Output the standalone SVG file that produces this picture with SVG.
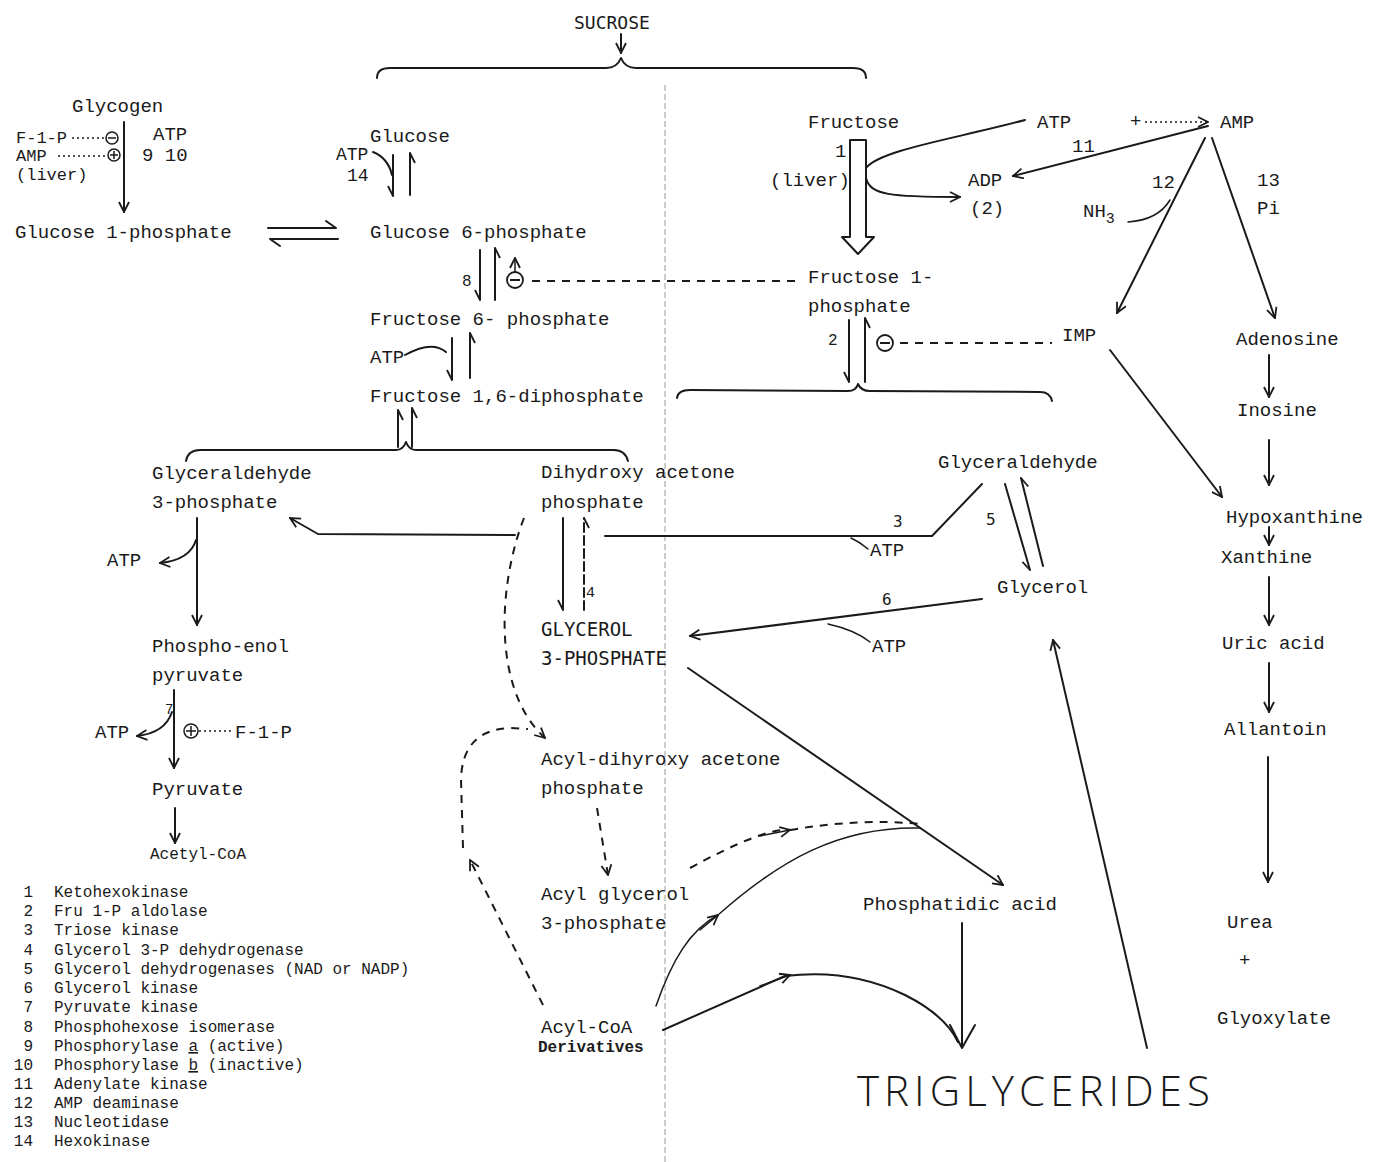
<svg xmlns="http://www.w3.org/2000/svg" width="1376" height="1162" viewBox="0 0 1376 1162">
<defs>
<style>
.t{font-family:"Liberation Mono","DejaVu Sans Mono",monospace;font-size:19px;fill:#1a1a1a}
.s{font-family:"Liberation Mono","DejaVu Sans Mono",monospace;font-size:16px;fill:#1a1a1a}
.c{font-family:"DejaVu Sans Mono","Liberation Mono",monospace;font-size:18px;fill:#1a1a1a}
.l{fill:none;stroke:#1a1a1a;stroke-width:2;stroke-linecap:round;stroke-linejoin:round}
.th{fill:none;stroke:#1a1a1a;stroke-width:1.5;stroke-linecap:round}
.d{fill:none;stroke:#1a1a1a;stroke-width:2;stroke-dasharray:8 7}
.dt{fill:none;stroke:#1a1a1a;stroke-width:1.5;stroke-dasharray:2 3}
.a{marker-end:url(#ah)}
.h{marker-end:url(#hb)}
</style>
<marker id="ah" viewBox="0 0 12 12" refX="11" refY="6" markerWidth="12" markerHeight="12" markerUnits="userSpaceOnUse" orient="auto">
<path d="M1,1 L11,6 L1,11" fill="none" stroke="#1a1a1a" stroke-width="1.8"/>
</marker>
<marker id="hb" viewBox="0 0 12 12" refX="11" refY="6" markerWidth="12" markerHeight="12" markerUnits="userSpaceOnUse" orient="auto">
<path d="M1,11 L11,6" fill="none" stroke="#1a1a1a" stroke-width="1.8"/>
</marker>
</defs>
<rect width="1376" height="1162" fill="#ffffff"/>
<line x1="665" y1="85" x2="665" y2="1162" stroke="#9a9a9a" stroke-width="1" stroke-dasharray="6 3"/>

<g id="connectors">
<!-- sucrose -->
<path class="a l" d="M621,34 L621,53"/>
<path class="l" d="M377,78 Q377,68 390,68 L606,68 Q617,68 621,58 Q625,68 636,68 L853,68 Q866,68 866,78"/>
<!-- glycogen -->
<path class="a l" d="M124,122 L124,212"/>
<path class="dt" d="M72,138 L104,138 M58,156 L106,156"/>
<!-- G1P <-> G6P -->
<path class="l" d="M268,228 L336,228 L326,221"/>
<path class="l" d="M338,239 L270,239 L280,246"/>
<!-- glucose <-> G6P -->
<path class="h l" d="M393,155 L393,196"/>
<path class="l" d="M373,152 Q388,158 392,175"/>
<path class="h l" d="M410,195 L410,153"/>
<!-- G6P <-> F6P -->
<path class="h l" d="M480,250 L480,300"/>
<path class="h l" d="M495,300 L495,248"/>
<path class="a th" d="M515,272 L515,258"/>
<path class="d" d="M532,281 L800,281"/>
<!-- F6P <-> F16DP -->
<path class="h l" d="M452,338 L452,380"/>
<path class="l" d="M405,355 Q432,340 446,352"/>
<path class="h l" d="M470,378 L470,333"/>
<!-- F16DP -> triose -->
<path class="h l" d="M398,447 L398,410"/>
<path class="h l" d="M412,447 L412,408"/>
<path class="l" d="M186,461 Q188,450 200,450 L396,450 Q403,450 406,442 Q409,450 416,450 L614,450 Q625,450 628,461"/>
<!-- GAP down -->
<path class="a l" d="M197,518 L197,625"/>
<path class="a l" d="M196,540 Q190,560 160,563"/>
<!-- PEP -> pyruvate -->
<path class="a l" d="M174,690 L174,768"/>
<path class="a l" d="M172,712 Q165,733 137,736"/>
<path class="dt" d="M199,731 L232,731"/>
<path class="a l" d="M175,808 L175,843"/>
<!-- DHAP -> GAP -->
<path class="a l" d="M515,535 L318,534 L290,518"/>
<!-- glyceraldehyde -> triose kinase line -->
<path class="l" d="M982,484 L932,536 L605,536"/>
<path class="th" d="M851,538 Q860,542 868,549"/>
<!-- DHAP <-> G3P -->
<path class="h l" d="M563,518 L563,610"/>
<path class="h l" d="M584,610 L584,518" stroke-dasharray="9 4"/>
<!-- DHAP dashed to acyl-DHAP -->
<path class="a d" d="M524,518 C498,585 492,690 545,738"/>
<!-- glyceraldehyde <-> glycerol -->
<path class="h l" d="M1005,484 L1030,570"/>
<path class="h l" d="M1043,566 L1021,478"/>
<!-- glycerol -> G3P -->
<path class="a l" d="M982,599 L690,636"/>
<path class="th" d="M828,624 Q855,630 870,642"/>
<!-- G3P -> phosphatidic acid -->
<path class="a l" d="M688,668 L1003,885"/>
<!-- fructose -> F1P hollow arrow -->
<path class="l" d="M850,140 L866,140 M850,140 L850,237 L842,237 L858,254 L874,237 L866,237 L866,140"/>
<path class="l" d="M1025,120 C950,140 880,150 866,168"/>
<path class="a l" d="M866,178 C870,195 890,197 960,197"/>
<!-- AMP -> ADP, ATP + -> AMP -->
<path class="a l" d="M1208,126 L1013,176"/>
<path class="a dt" d="M1145,122 L1208,122"/>
<!-- AMP -> IMP, AMP -> adenosine -->
<path class="a l" d="M1205,138 L1117,313"/>
<path class="th" d="M1128,222 Q1158,220 1170,200"/>
<path class="a l" d="M1212,138 L1275,318"/>
<!-- F1P aldolase -->
<path class="h l" d="M849,320 L849,382"/>
<path class="h l" d="M865,382 L865,318"/>
<path class="d" d="M900,343 L1052,343"/>
<path class="l" d="M677,398 Q678,390 690,390 L848,391 Q856,391 858,384 Q861,391 870,391 L1040,392 Q1050,392 1052,401"/>
<!-- IMP -> hypoxanthine -->
<path class="a l" d="M1110,350 L1222,497"/>
<!-- purine column -->
<path class="a l" d="M1269,355 L1269,397"/>
<path class="a l" d="M1269,440 L1269,485"/>
<path class="a l" d="M1269,527 L1269,545"/>
<path class="a l" d="M1269,577 L1269,625"/>
<path class="a l" d="M1269,663 L1269,712"/>
<path class="a l" d="M1268,757 L1268,882"/>
<!-- triglycerides -> glycerol -->
<path class="a l" d="M1147,1048 L1053,640"/>
<!-- acyl pathways -->
<path class="a d" d="M597,808 L608,875"/>
<path class="d" d="M690,868 Q760,830 785,830"/>
<path class="a th" d="M760,836 L790,830"/>
<path class="d" d="M790,830 Q860,818 920,824"/>
<path class="th" d="M656,1006 C672,960 690,930 718,915 C780,860 840,826 920,828"/>
<path class="a th" d="M700,930 L718,915"/>
<path class="l" d="M663,1030 L785,976 Q850,968 905,995 Q945,1015 958,1042"/>
<path class="a th" d="M760,986 L790,975"/>
<path class="l" d="M962,923 L962,1048 M950,1025 L962,1048 L975,1025"/>
<path class="a d" d="M543,1005 L470,860"/>
<path class="d" d="M463,848 L461,780 Q462,730 510,728 L528,729"/>
</g>

<g id="sucrose"><text class="c" x="574" y="29">SUCROSE</text></g>
<g id="glycogen">
<text class="t" x="72" y="112">Glycogen</text>
<text class="s" x="16" y="143" style="font-size:17px">F-1-P</text>
<circle cx="112" cy="138" r="6" fill="none" stroke="#1a1a1a" stroke-width="1.5"/>
<path d="M108,138 L116,138" stroke="#1a1a1a" stroke-width="1.5"/>
<text class="s" x="16" y="161" style="font-size:17px">AMP</text>
<circle cx="114" cy="155" r="6" fill="none" stroke="#1a1a1a" stroke-width="1.5"/>
<path d="M110,155 L118,155 M114,151 L114,159" stroke="#1a1a1a" stroke-width="1.5"/>
<text class="s" x="16" y="180" style="font-size:17px">(liver)</text>
<text class="t" x="153" y="140">ATP</text>
<text class="t" x="142" y="161">9 10</text>
</g>
<g id="g1p"><text class="t" x="15" y="238">Glucose 1-phosphate</text></g>
<g id="glucose">
<text class="t" x="370" y="142">Glucose</text>
<text class="t" x="336" y="160" style="font-size:18px">ATP</text>
<text class="t" x="347" y="181" style="font-size:18px">14</text>
</g>
<g id="g6p"><text class="t" x="370" y="238">Glucose 6-phosphate</text>
<text class="t" x="462" y="286" style="font-size:16px">8</text>
<circle cx="515" cy="280" r="8" fill="none" stroke="#1a1a1a" stroke-width="1.8"/>
<path d="M510,280 L520,280" stroke="#1a1a1a" stroke-width="2"/>
</g>
<g id="f6p"><text class="t" x="370" y="325">Fructose 6- phosphate</text>
<text class="t" x="370" y="363">ATP</text></g>
<g id="f16dp"><text class="t" x="370" y="402">Fructose 1,6-diphosphate</text></g>
<g id="gap3p">
<text class="t" x="152" y="479">Glyceraldehyde</text>
<text class="t" x="152" y="508">3-phosphate</text>
<text class="t" x="107" y="566">ATP</text>
</g>
<g id="dhap">
<text class="t" x="541" y="478">Dihydroxy acetone</text>
<text class="t" x="541" y="508">phosphate</text>
<text class="t" x="586" y="597" style="font-size:15px">4</text>
</g>
<g id="g3p">
<text class="c" x="541" y="636" style="font-size:19px">GLYCEROL</text>
<text class="c" x="541" y="665" style="font-size:19px">3-PHOSPHATE</text>
</g>
<g id="pep">
<text class="t" x="152" y="652">Phospho-enol</text>
<text class="t" x="152" y="681">pyruvate</text>
<text class="t" x="165" y="714" style="font-size:14px">7</text>
<text class="t" x="95" y="738">ATP</text>
<circle cx="191" cy="731" r="7" fill="none" stroke="#1a1a1a" stroke-width="1.5"/>
<path d="M186,731 L196,731 M191,726 L191,736" stroke="#1a1a1a" stroke-width="1.5"/>
<text class="t" x="235" y="738">F-1-P</text>
</g>
<g id="pyruvate"><text class="t" x="152" y="795">Pyruvate</text></g>
<g id="acetylcoa"><text class="s" x="150" y="859">Acetyl-CoA</text></g>
<g id="legend" class="s">
<text x="33" y="897" text-anchor="end">1</text><text x="54" y="897">Ketohexokinase</text>
<text x="33" y="916" text-anchor="end">2</text><text x="54" y="916">Fru 1-P aldolase</text>
<text x="33" y="935" text-anchor="end">3</text><text x="54" y="935">Triose kinase</text>
<text x="33" y="955" text-anchor="end">4</text><text x="54" y="955">Glycerol 3-P dehydrogenase</text>
<text x="33" y="974" text-anchor="end">5</text><text x="54" y="974">Glycerol dehydrogenases (NAD or NADP)</text>
<text x="33" y="993" text-anchor="end">6</text><text x="54" y="993">Glycerol kinase</text>
<text x="33" y="1012" text-anchor="end">7</text><text x="54" y="1012">Pyruvate kinase</text>
<text x="33" y="1032" text-anchor="end">8</text><text x="54" y="1032">Phosphohexose isomerase</text>
<text x="33" y="1051" text-anchor="end">9</text><text x="54" y="1051">Phosphorylase <tspan text-decoration="underline">a</tspan> (active)</text>
<text x="33" y="1070" text-anchor="end">10</text><text x="54" y="1070">Phosphorylase <tspan text-decoration="underline">b</tspan> (inactive)</text>
<text x="33" y="1089" text-anchor="end">11</text><text x="54" y="1089">Adenylate kinase</text>
<text x="33" y="1108" text-anchor="end">12</text><text x="54" y="1108">AMP deaminase</text>
<text x="33" y="1127" text-anchor="end">13</text><text x="54" y="1127">Nucleotidase</text>
<text x="33" y="1146" text-anchor="end">14</text><text x="54" y="1146">Hexokinase</text>
</g>
<g id="fructose">
<text class="t" x="808" y="128">Fructose</text>
<text class="t" x="835" y="157">1</text>
<text class="t" x="770" y="186">(liver)</text>
</g>
<g id="atp-amp">
<text class="t" x="1037" y="128">ATP</text>
<text class="t" x="1130" y="127">+</text>
<text class="t" x="1220" y="128">AMP</text>
<text class="t" x="1072" y="152">11</text>
<text class="t" x="968" y="186">ADP</text>
<text class="t" x="970" y="214">(2)</text>
<text class="t" x="1152" y="188">12</text>
<text class="t" x="1083" y="217">NH<tspan dy="6" style="font-size:15px">3</tspan></text>
<text class="t" x="1257" y="186">13</text>
<text class="t" x="1257" y="214">Pi</text>
</g>
<g id="f1p">
<text class="t" x="808" y="283">Fructose 1-</text>
<text class="t" x="808" y="312">phosphate</text>
<text class="t" x="828" y="345" style="font-size:16px">2</text>
<circle cx="885" cy="343" r="8" fill="none" stroke="#1a1a1a" stroke-width="1.8"/>
<path d="M880,343 L890,343" stroke="#1a1a1a" stroke-width="2"/>
</g>
<g id="imp"><text class="t" x="1062" y="341">IMP</text></g>
<g id="glyceraldehyde">
<text class="t" x="938" y="468">Glyceraldehyde</text>
<text class="c" x="893" y="527" style="font-size:16px">3</text>
<text class="t" x="870" y="556">ATP</text>
<text class="c" x="986" y="525" style="font-size:16px">5</text>
</g>
<g id="glycerol">
<text class="t" x="997" y="593">Glycerol</text>
<text class="c" x="882" y="605" style="font-size:16px">6</text>
<text class="t" x="872" y="652">ATP</text>
</g>
<g id="acyl-dhap">
<text class="t" x="541" y="765">Acyl-dihyroxy acetone</text>
<text class="t" x="541" y="794">phosphate</text>
</g>
<g id="acyl-g3p">
<text class="t" x="541" y="900">Acyl glycerol</text>
<text class="t" x="541" y="929">3-phosphate</text>
</g>
<g id="acylcoa">
<text class="t" x="541" y="1033">Acyl-CoA</text>
<text class="s" x="538" y="1052" style="font-weight:bold">Derivatives</text>
</g>
<g id="phosphatidic"><text class="t" x="863" y="910">Phosphatidic acid</text></g>
<g id="triglycerides"><text x="857" y="1106" textLength="353" lengthAdjust="spacing" style="font-family:'Open Sans','Liberation Sans',sans-serif;font-weight:300;font-size:42px;fill:#1a1a1a">TRIGLYCERIDES</text></g>
<g id="purines">
<text class="t" x="1236" y="345">Adenosine</text>
<text class="t" x="1237" y="416">Inosine</text>
<text class="t" x="1226" y="523">Hypoxanthine</text>
<text class="t" x="1221" y="563">Xanthine</text>
<text class="t" x="1222" y="649">Uric acid</text>
<text class="t" x="1224" y="735">Allantoin</text>
<text class="t" x="1227" y="928">Urea</text>
<text class="t" x="1239" y="966">+</text>
<text class="t" x="1217" y="1024">Glyoxylate</text>
</g>
</svg>
